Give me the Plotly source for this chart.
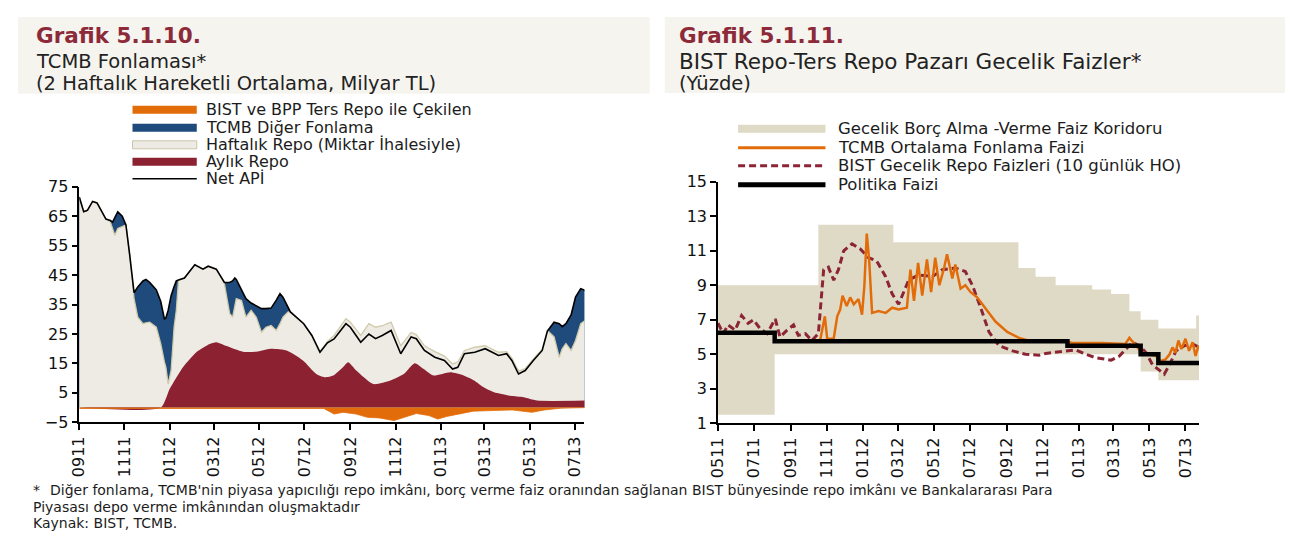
import plotly.graph_objects as go

W, H = 1293, 534
# resimde sekil ~16px kaymis ve hafif kuculmus gorunuyor; yerlesim buna gore duzeltiliyor
OFS, SX, SY = 16, 0.988, 0.966

# Grafik 5.1.10 - TCMB Fonlamasi (milyar TL)
tarih_sol = ['2011-09-01', '2011-09-07', '2011-09-12', '2011-09-19', '2011-09-25', '2011-10-07', '2011-10-13',
             '2011-10-16', '2011-10-19', '2011-10-23', '2011-10-29', '2011-11-03', '2011-11-08', '2011-11-14',
             '2011-11-19', '2011-11-26', '2011-11-30', '2011-12-05', '2011-12-14', '2011-12-20', '2011-12-25',
             '2011-12-27', '2011-12-30', '2012-01-03', '2012-01-07', '2012-01-10', '2012-01-13', '2012-01-21',
             '2012-02-04', '2012-02-15', '2012-02-22', '2012-03-04', '2012-03-15', '2012-03-22', '2012-03-26',
             '2012-03-29', '2012-03-31', '2012-04-07', '2012-04-13', '2012-04-20', '2012-04-27', '2012-05-04',
             '2012-05-10', '2012-05-17', '2012-05-24', '2012-05-29', '2012-06-02', '2012-06-09', '2012-06-12',
             '2012-06-30', '2012-07-11', '2012-07-22', '2012-08-01', '2012-08-10', '2012-08-26', '2012-09-01',
             '2012-09-15', '2012-09-26', '2012-10-05', '2012-10-14', '2012-10-26', '2012-11-08', '2012-11-22',
             '2012-11-29', '2012-12-10', '2012-12-24', '2013-01-06', '2013-01-17', '2013-01-24', '2013-02-02',
             '2013-02-16', '2013-03-02', '2013-03-11', '2013-03-20', '2013-03-31', '2013-04-07', '2013-04-16',
             '2013-04-25', '2013-05-06', '2013-05-18', '2013-05-25', '2013-06-03', '2013-06-10', '2013-06-14',
             '2013-06-19', '2013-06-26', '2013-07-02', '2013-07-09', '2013-07-15']
net_api = [71.5, 66.5, 67, 70, 69.5, 64, 63.5, 63, 64.5, 66.5,
           65, 62, 52, 39, 41, 43, 43.5, 42.5, 40, 36,
           30, 30.5, 33, 38, 41, 43, 43.3, 44, 48.5, 47,
           48, 47, 42.5, 42.5, 43, 44, 43.5, 40, 37, 35.5,
           34.5, 33.6, 33.6, 33.8, 36.5, 38.7, 37.5, 34, 32.5, 28.5,
           24.5, 18.8, 22, 23.3, 28.5, 27.3, 22.2, 25, 23.4, 24.5,
           26.2, 18.3, 24, 23.4, 19.4, 17.1, 16, 13.1, 13.7, 18.3,
           18.8, 20, 18.8, 17.7, 18.3, 16, 11.4, 12.6, 16, 19.4,
           26, 29, 28.5, 27.5, 28.5, 31.5, 37.5, 40.4, 39.8]
# haftalik + aylik repo toplami (bej alanin ust siniri)
haftalik_ust = [71.5, 66.5, 67, 70, 69.5, 64, 63, 61, 58.5, 60.8,
                61.5, 62, 52, 37, 30.7, 28.5, 28.8, 29, 27.3, 21.7,
                15.5, 13.7, 8, 12.6, 27.3, 33, 43.3, 44, 48.5, 47,
                48, 47, 42, 32, 30.7, 35, 37, 36.4, 30.7, 33,
                30.7, 25.6, 27.3, 27.9, 26.2, 28.5, 30.7, 32.5, 32.5, 28.5,
                24.5, 19, 22.5, 24.5, 30.2, 29, 24.5, 28.5, 27.3, 27.8,
                29, 21, 25.5, 24.8, 21, 19, 17.5, 14.8, 15.5, 19.4,
                20.5, 21, 19.8, 18.8, 19, 16.8, 12.4, 13.2, 16.5, 19.8,
                26.2, 24, 17.1, 20, 21.7, 19.4, 22.8, 28.5, 29.6]

aylik_tarih = ['2011-09-01', '2011-12-20', '2012-01-01', '2012-01-19', '2012-02-06', '2012-02-24', '2012-03-04',
               '2012-03-17', '2012-04-09', '2012-04-27', '2012-05-16', '2012-06-07', '2012-06-29', '2012-07-17',
               '2012-07-28', '2012-08-09', '2012-08-22', '2012-08-29', '2012-09-09', '2012-10-02', '2012-10-25',
               '2012-11-12', '2012-11-27', '2012-12-09', '2012-12-22', '2013-01-14', '2013-02-01', '2013-02-15',
               '2013-02-28', '2013-03-14', '2013-04-05', '2013-04-23', '2013-05-11', '2013-07-15']
aylik_repo = [0, 0, 6.3, 13.7, 18.8, 21.6, 22.2, 21, 19, 19, 20, 19.4, 16, 11.4, 10.3, 10.9, 13.7,
              15.4, 12.6, 8, 9.2, 11.4, 15.1, 13.1, 10.9, 12, 10.9, 9.2, 6.9, 5.2, 4, 3.5, 2.4, 2.4]

bist_tarih = ['2011-09-01', '2012-07-27', '2012-08-03', '2012-08-10', '2012-08-22', '2012-09-09', '2012-09-24',
              '2012-10-10', '2012-10-30', '2012-11-12', '2012-11-29', '2012-12-16', '2012-12-28', '2013-01-09',
              '2013-01-27', '2013-02-14', '2013-03-11', '2013-04-08', '2013-05-04', '2013-05-21', '2013-06-12',
              '2013-07-15']
bist_ters_repo = [-0.3, -0.3, -1.2, -2.2, -1.6, -2.2, -3.3, -3.5, -4.4, -3.3, -2.0,
                  -2.7, -3.9, -3.0, -2.0, -1.2, -1.0, -0.8, -1.6, -0.8, -0.2, 0]

# Grafik 5.1.11 - BIST repo-ters repo gecelik faizler (yuzde)
koridor_tarih = ['2011-05-01', '2011-08-05', '2011-10-18', '2012-02-22', '2012-09-21', '2012-10-20', '2012-11-23',
                 '2013-01-24', '2013-02-25', '2013-03-28', '2013-04-16', '2013-05-16', '2013-07-19', '2013-07-24']
borc_verme = [9, 9, 12.5, 11.5, 10, 9.5, 9, 8.75, 8.5, 7.5, 7, 6.5, 7.25, 7.25]
borc_alma = [1.5, 5, 5, 5, 5, 5, 5, 5, 5, 5, 4, 3.5, 3.5, 3.5]

politika_tarih = ['2011-05-01', '2011-08-05', '2012-12-13', '2013-04-16', '2013-05-16', '2013-07-24']
politika_faizi = [6.25, 5.75, 5.5, 5.0, 4.5, 4.5]

fonlama_tarih = ['2011-10-21', '2011-10-29', '2011-11-02', '2011-11-13', '2011-11-19', '2011-11-24', '2011-11-28',
                 '2011-12-05', '2011-12-11', '2011-12-17', '2011-12-25', '2011-12-31', '2012-01-04', '2012-01-08',
                 '2012-01-12', '2012-01-17', '2012-01-28', '2012-02-09', '2012-02-20', '2012-03-02', '2012-03-16',
                 '2012-03-22', '2012-03-28', '2012-04-04', '2012-04-11', '2012-04-19', '2012-04-26', '2012-05-03',
                 '2012-05-10', '2012-05-18', '2012-05-23', '2012-06-01', '2012-06-06', '2012-06-15', '2012-06-23',
                 '2012-07-02', '2012-07-13', '2012-07-22', '2012-08-13', '2012-08-23', '2012-09-02', '2012-09-22',
                 '2012-10-14', '2012-12-13', '2012-12-21', '2013-02-09', '2013-03-21', '2013-03-28', '2013-04-03',
                 '2013-04-10', '2013-04-18', '2013-05-12', '2013-05-20', '2013-05-28', '2013-06-04', '2013-06-09',
                 '2013-06-14', '2013-06-19', '2013-06-24', '2013-07-01', '2013-07-07', '2013-07-13', '2013-07-18',
                 '2013-07-23']
fonlama_faizi = [5.8, 7.2, 5.9, 5.9, 7.2, 7.6, 8.4, 7.8, 8.3, 7.9, 8.2, 7.3, 9.0, 12.0,
                 10.5, 7.4, 7.5, 7.4, 7.7, 7.6, 7.7, 9.9, 8.1, 10.3, 8.4, 10.5, 8.6, 10.6,
                 9.0, 10.0, 10.8, 9.4, 10.2, 8.8, 9.0, 8.6, 8.3, 7.9, 6.9, 6.6, 6.3, 5.95,
                 5.75, 5.75, 5.65, 5.65, 5.6, 5.95, 5.7, 5.4, 5.1, 4.9, 4.6, 4.7, 5.0, 5.4,
                 5.1, 5.8, 5.3, 5.9, 5.2, 5.7, 4.9, 5.5]

bist_repo_tarih = ['2011-05-01', '2011-05-10', '2011-05-18', '2011-05-30', '2011-06-10', '2011-06-21', '2011-06-30',
                   '2011-07-11', '2011-07-23', '2011-08-06', '2011-08-14', '2011-08-26', '2011-09-06', '2011-09-14',
                   '2011-09-26', '2011-10-07', '2011-10-18', '2011-10-27', '2011-11-04', '2011-11-13', '2011-11-21',
                   '2011-11-30', '2011-12-14', '2011-12-28', '2012-01-11', '2012-01-25', '2012-02-09', '2012-02-20',
                   '2012-03-02', '2012-03-19', '2012-04-05', '2012-04-28', '2012-05-15', '2012-06-06', '2012-06-23',
                   '2012-07-05', '2012-07-19', '2012-08-02', '2012-08-19', '2012-09-11', '2012-10-03', '2012-10-26',
                   '2012-11-06', '2012-12-10', '2012-12-27', '2013-01-13', '2013-01-30', '2013-02-25', '2013-03-11',
                   '2013-03-22', '2013-04-02', '2013-04-14', '2013-04-25', '2013-05-06', '2013-05-26', '2013-06-04',
                   '2013-06-15', '2013-06-29', '2013-07-13', '2013-07-22']
bist_repo_faizi = [6.8, 6.2, 6.7, 6.4, 7.25, 6.8, 7.0, 6.5, 6.2, 7.05, 6.0, 6.4, 6.7, 6.1,
                   6.2, 5.8, 6.2, 9.9, 10.05, 9.3, 9.9, 11.0, 11.4, 11.1, 10.6, 10.4, 9.5, 8.5,
                   7.9, 9.3, 9.6, 9.5, 9.9, 10.0, 9.8, 9.0, 7.7, 6.3, 5.5, 5.2, 5.0, 4.95,
                   5.05, 5.2, 5.25, 5.0, 4.8, 4.66, 4.9, 5.3, 5.7, 5.5, 5.1, 4.4, 3.85, 4.4,
                   5.2, 5.5, 5.6, 5.45]

sol_yticks = list(range(-5, 76, 10))
sag_yticks = list(range(1, 16, 2))

TURUNCU = '#e36c0a'
MAVI = '#1f4a7c'
BEJ = '#eeebe4'
KIRMIZI = '#8b2131'
KORIDOR = '#dfdac6'
BORDO = '#8b2535'
FONT = 'DejaVu Sans'


def px(x, y):
    # resim pikselinden paper koordinatina
    fx = max((x - OFS) / SX, 0)
    fy = max((y - OFS) / SY, 0)
    return fx / W, 1 - fy / H


fig = go.Figure()

# sol grafik
fig.add_trace(go.Scatter(x=tarih_sol, y=net_api, mode='lines', fill='tozeroy', fillcolor=MAVI,
                         line=dict(width=0, color=MAVI), xaxis='x', yaxis='y'))
fig.add_trace(go.Scatter(x=tarih_sol, y=haftalik_ust, mode='lines', fill='tozeroy', fillcolor=BEJ,
                         line=dict(width=1.3, color='#cfcbab'), xaxis='x', yaxis='y'))
fig.add_trace(go.Scatter(x=aylik_tarih, y=aylik_repo, mode='lines', fill='tozeroy', fillcolor=KIRMIZI,
                         line=dict(width=0, color=KIRMIZI, shape='spline', smoothing=0.6), xaxis='x', yaxis='y'))
fig.add_trace(go.Scatter(x=bist_tarih, y=bist_ters_repo, mode='lines', fill='tozeroy', fillcolor=TURUNCU,
                         line=dict(width=0.8, color=TURUNCU), xaxis='x', yaxis='y'))
fig.add_trace(go.Scatter(x=tarih_sol, y=net_api, mode='lines', line=dict(width=1.6, color='black'),
                         xaxis='x', yaxis='y'))

# sag grafik
fig.add_trace(go.Scatter(x=koridor_tarih, y=borc_alma, mode='lines', line=dict(width=0, shape='hv'),
                         xaxis='x2', yaxis='y3'))
fig.add_trace(go.Scatter(x=koridor_tarih, y=borc_verme, mode='lines', fill='tonexty', fillcolor=KORIDOR,
                         line=dict(width=0, shape='hv'), xaxis='x2', yaxis='y3'))
fig.add_trace(go.Scatter(x=bist_repo_tarih, y=bist_repo_faizi, mode='lines',
                         line=dict(width=3, color=BORDO, dash='7px,4px'), xaxis='x2', yaxis='y3'))
fig.add_trace(go.Scatter(x=fonlama_tarih, y=fonlama_faizi, mode='lines', line=dict(width=2.5, color=TURUNCU),
                         xaxis='x2', yaxis='y3'))
fig.add_trace(go.Scatter(x=politika_tarih, y=politika_faizi, mode='lines',
                         line=dict(width=4.5, color='black', shape='hv'), xaxis='x2', yaxis='y3'))

tick_font = dict(family=FONT, size=16, color='#111111')
xcommon = dict(type='date', dtick='M2', tickformat='%m%y', tickangle=-90, ticks='outside', ticklen=6,
               tickwidth=1.5, tickcolor='black', showline=True, linecolor='black', linewidth=1.5,
               showgrid=False, zeroline=False, tickfont=tick_font)
ycommon = dict(ticks='outside', ticklen=6, tickwidth=1.5, tickcolor='black', showline=True,
               linecolor='black', linewidth=1.5, showgrid=False, zeroline=False, tickfont=tick_font)


def xdom(x0, x1):
    return [px(x0, 100)[0], px(x1, 100)[0]]


def ydom(y_alt, y_ust):
    return [px(100, y_alt)[1], px(100, y_ust)[1]]


fig.update_layout(
    width=W, height=H, margin=dict(l=0, r=0, t=0, b=0),
    paper_bgcolor='white', plot_bgcolor='white', showlegend=False, hovermode=False,
    xaxis=dict(domain=xdom(77, 580), anchor='y', range=['2011-09-01', '2013-07-14'],
               tick0='2011-09-01', **xcommon),
    yaxis=dict(domain=ydom(422, 186), anchor='x', range=[-5, 75], tickvals=sol_yticks, **ycommon),
    yaxis2=dict(overlaying='y', side='right', anchor='x', range=[-5, 75], tickvals=sol_yticks, **ycommon),
    xaxis2=dict(domain=xdom(713, 1192), anchor='y3', range=['2011-05-01', '2013-07-24'],
                tick0='2011-05-01', **xcommon),
    yaxis3=dict(domain=ydom(423, 181), anchor='x2', range=[1, 15], tickvals=sag_yticks, **ycommon),
    yaxis4=dict(overlaying='y3', side='right', anchor='x2', range=[1, 15], tickvals=sag_yticks, **ycommon),
)

shapes = []
annots = []


def rect(x0, y0, x1, y1, fill, line=None, lw=0, layer='above'):
    a, b = px(x0, y0)
    c, d = px(x1, y1)
    shapes.append(dict(type='rect', xref='paper', yref='paper', x0=a, y0=b, x1=c, y1=d, fillcolor=fill,
                       line=dict(width=lw, color=line or fill), layer=layer))


def seg(x0, y0, x1, y1, color, width, dash=None):
    a, b = px(x0, y0)
    c, d = px(x1, y1)
    ln = dict(width=width, color=color)
    if dash:
        ln['dash'] = dash
    shapes.append(dict(type='line', xref='paper', yref='paper', x0=a, y0=b, x1=c, y1=d, line=ln))


def text(x, y, s, size, color='#1c1c1c', bold=False):
    a, b = px(x, y)
    if bold:
        s = '<b>' + s + '</b>'
    annots.append(dict(xref='paper', yref='paper', x=a, y=b, text=s, showarrow=False, xanchor='left',
                       yanchor='middle', font=dict(family=FONT, size=size, color=color)))


# cerceve ve baslik kutulari
seg(1286, 5, 1286, 534, '#dcd5c8', 3)
rect(12, 10, 645, 93, '#f6f4ef', layer='below')
rect(660, 10, 1280, 92, '#f6f4ef', layer='below')

text(32, 35, 'Grafik 5.1.10.', 21.5, '#8c2a3a', bold=True)
text(32, 61, 'TCMB Fonlaması*', 19.5, '#222222')
text(32, 83, '(2 Haftalık Hareketli Ortalama, Milyar TL)', 19.5, '#222222')
text(672, 35, 'Grafik 5.1.11.', 21.5, '#8c2a3a', bold=True)
text(672, 61, 'BIST Repo-Ters Repo Pazarı Gecelik Faizler*', 21.5, '#222222')
text(672, 83, '(Yüzde)', 19.5, '#222222')

# sol lejant
sol_lejant = ['BIST ve BPP Ters Repo ile Çekilen', 'TCMB Diğer Fonlama', 'Haftalık Repo (Miktar İhalesiyle)',
              'Aylık Repo', 'Net APİ']
sol_y = [109, 127, 144, 161, 178]
rect(130, sol_y[0] - 4, 194, sol_y[0] + 4, TURUNCU)
rect(130, sol_y[1] - 4, 194, sol_y[1] + 4, MAVI)
rect(130, sol_y[2] - 4, 194, sol_y[2] + 4, BEJ, '#c9c5ab', 1)
rect(130, sol_y[3] - 4, 194, sol_y[3] + 4, KIRMIZI)
seg(130, sol_y[4], 194, sol_y[4], 'black', 1.3)
for s, y in zip(sol_lejant, sol_y):
    text(201, y, s, 16)

# sag lejant
sag_lejant = ['Gecelik Borç Alma -Verme Faiz Koridoru', 'TCMB Ortalama Fonlama Faizi',
              'BIST Gecelik Repo Faizleri (10 günlük HO)', 'Politika Faizi']
sag_y = [128, 147, 165, 184]
rect(733, sag_y[0] - 4, 820, sag_y[0] + 4, KORIDOR)
seg(733, sag_y[1], 820, sag_y[1], TURUNCU, 3)
seg(733, sag_y[2], 820, sag_y[2], BORDO, 3, '7px,4px')
seg(733, sag_y[3], 820, sag_y[3], 'black', 5)
for s, y in zip(sag_lejant, sag_y):
    text(830, y, s, 16.5)

# dipnot
text(29, 490, '*', 14)
text(46, 490, 'Diğer fonlama, TCMB\'nin piyasa yapıcılığı repo imkânı, borç verme faiz oranından sağlanan '
              'BIST bünyesinde repo imkânı ve Bankalararası Para', 14)
text(29, 506.5, 'Piyasası depo verme imkânından oluşmaktadır', 14)
text(29, 523, 'Kaynak: BIST, TCMB.', 14)

fig.update_layout(shapes=shapes, annotations=annots)
fig.write_html("out.html")
